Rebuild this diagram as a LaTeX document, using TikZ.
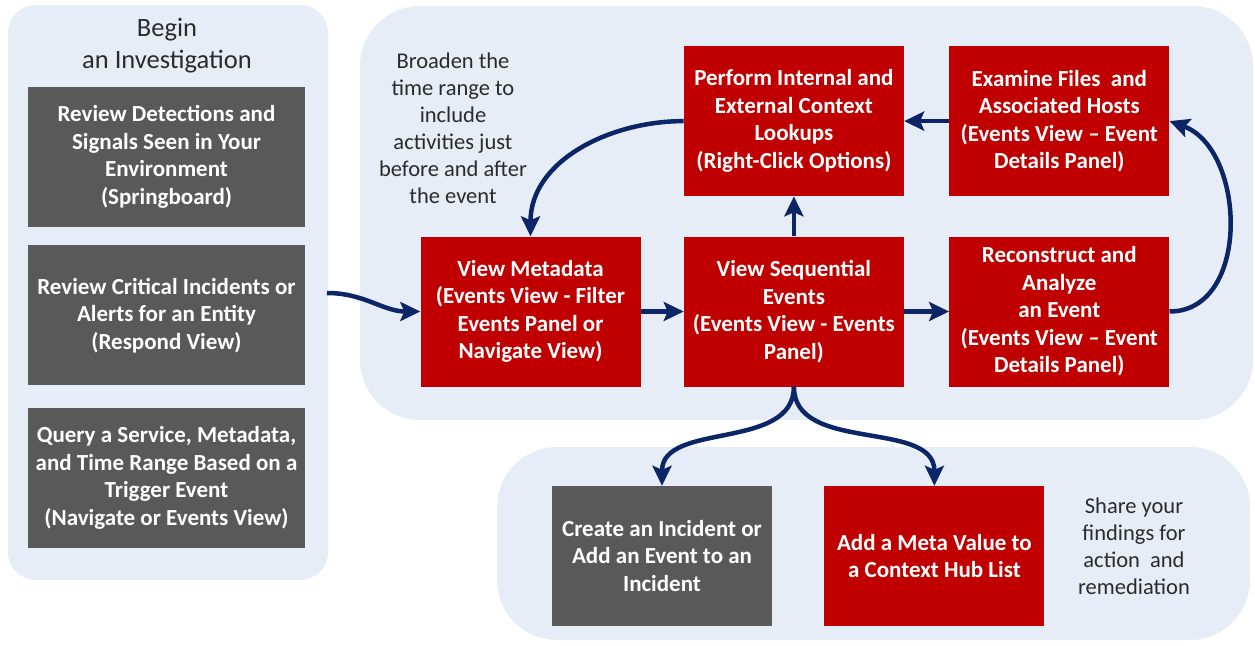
\documentclass[tikz,border=0pt]{standalone}
\usepackage{fontspec}
\setmainfont{Carlito}
\usepackage{tikz}
\usetikzlibrary{positioning, arrows.meta, backgrounds}

\definecolor{panelblue}{HTML}{E7EDF6}
\definecolor{boxred}{HTML}{C00000}
\definecolor{boxgray}{HTML}{595959}
\definecolor{navy}{HTML}{0B2566}
\definecolor{notegray}{HTML}{2B2B2B}

\begin{document}
\begin{tikzpicture}[
        x=1pt, y=1pt,
        redbox/.style={
            rectangle,
            align=center,
            fill=boxred,
            text=white,
            font=\fontsize{23}{27.5}\selectfont\bfseries,
            minimum height=150pt,
            minimum width=220pt,
            inner sep=0pt
        },
        graybox/.style={
            redbox,
            fill=boxgray,
            minimum height=140pt,
            minimum width=277pt
        },
        note/.style={
            align=center,
            text=notegray,
            font=\fontsize{22.5}{27}\selectfont
        },
        arrow/.style={
            -{Stealth[length=20pt, width=19pt, inset=4pt]},
            line width=4.5pt,
            draw=navy
        },
        panel/.style={
            fill=panelblue,
            rounded corners=60pt
        }
    ]
        \useasboundingbox (0,0) rectangle (1255,-645);

        % Begin an investigation
        \node (title) [note, font=\fontsize{26.5}{32}\selectfont] at (167,-46) {Begin\\an Investigation};
        \node (detect) [graybox] at (166.5,-157) {Review Detections and\\Signals Seen in Your\\Environment\\(Springboard)};
        \node (critical) [graybox, below=18pt of detect] {Review Critical Incidents or\\Alerts for an Entity\\(Respond View)};
        \node (query) [graybox, below=22pt of critical] {Query a Service, Metadata,\\and Time Range Based on a\\Trigger Event\\(Navigate or Events View)};

        % Investigate
        \node (meta) [redbox] at (530.5,-311.5) {View Metadata\\(Events View - Filter\\Events Panel or\\Navigate View)};
        \node (seq) [redbox, right=43pt of meta] {View Sequential\\Events\\(Events View - Events\\Panel)};
        \node (recon) [redbox, right=45pt of seq] {Reconstruct and\\Analyze\\an Event\\(Events View -- Event\\Details Panel)};
        \node (lookup) [redbox, above=40pt of seq] {Perform Internal and\\External Context\\Lookups\\(Right-Click Options)};
        \node (examine) [redbox, above=40pt of recon] {Examine Files\ \ and\\Associated Hosts\\(Events View -- Event\\Details Panel)};
        \node (broaden) [note] at (453,-128) {Broaden the\\time range to\\include\\activities just\\before and after\\the event};

        % Share the findings
        \node (incident) [graybox, minimum width=220pt] at (662,-556) {Create an Incident or\\Add an Event to an\\Incident};
        \node (metaval) [redbox, minimum height=140pt, right=52pt of incident] {Add a Meta Value to\\a Context Hub List};
        \node (share) [note] at (1134,-546) {Share your\\findings for\\action\ \ and\\remediation};

        \begin{scope}[on background layer]
            \fill [panel, rounded corners=28pt] (8,-5) rectangle (328,-580);
            \fill [panel] (360,-6) rectangle (1253,-420);
            \fill [panel] (497,-447) rectangle (1250,-640);
        \end{scope}

        % Connections
        \coordinate (entry) at (327,-293);
        \draw [arrow] (entry) to[out=0, in=180] (meta.west);
        \draw [arrow] (meta) -- (seq);
        \draw [arrow] (seq) -- (recon);
        \draw [arrow] (seq) -- (lookup);
        \draw [arrow] (examine) -- (lookup);
        \draw [arrow] (lookup.west) to[out=180, in=90] (meta.north);
        \draw [arrow] (recon.east) to[out=0, in=-20, looseness=1.1] (examine.east);
        \draw [arrow] (seq.south) to[out=-90, in=90] (incident.north);
        \draw [arrow] (seq.south) to[out=-90, in=90] (metaval.north);
    \end{tikzpicture}
\end{document}
